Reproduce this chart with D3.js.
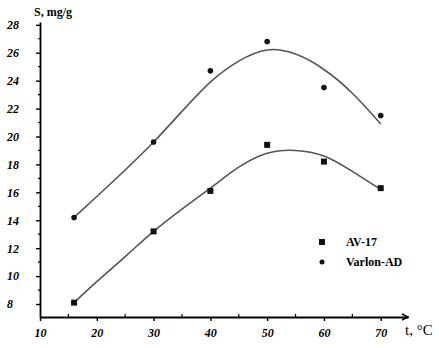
<!DOCTYPE html>
<html>
<head>
<meta charset="utf-8">
<script src="https://cdn.jsdelivr.net/npm/d3@7"></script>
<style>
  body { margin: 0; background: #fff; }
  svg { display: block; }
</style>
</head>
<body>
<div id="root"></div>
<script>
// measured points
const temps = [16, 30, 40, 50, 60, 70];
const av17 = [8.1, 13.2, 16.1, 19.4, 18.2, 16.3];
const varlon = [14.2, 19.6, 24.7, 26.8, 23.5, 21.5];

// fitted curves
const fitTemps = [16, 20, 25, 30, 35, 40, 45, 50, 55, 60, 65, 70];
const av17Fit = [8.1, 9.6, 11.4, 13.2, 14.8, 16.3, 17.8, 18.8, 19.0, 18.6, 17.5, 16.2];
const varlonFit = [14.2, 15.7, 17.6, 19.6, 21.8, 23.9, 25.4, 26.2, 25.9, 24.8, 23.1, 20.9];

const yTicks = [8, 10, 12, 14, 16, 18, 20, 22, 24, 26, 28];
const xTicks = [10, 20, 30, 40, 50, 60, 70];

const width = 439, height = 348;

const svg = d3.select('#root')
  .append('svg')
  .attr('width', width)
  .attr('height', height);

const x = d3.scaleLinear().domain([10, 74.8]).range([40, 408]);
const y = d3.scaleLinear().domain([7.07, 28.2]).range([317, 22]);

const tickFont = "'Liberation Serif', 'DejaVu Serif', serif";

// Y axis
const yAxis = svg.append('g')
  .attr('transform', `translate(${x(10)},0)`)
  .call(d3.axisLeft(y).tickValues(yTicks).tickSize(4).tickPadding(19).tickSizeOuter(0));
yAxis.select('.domain').attr('stroke-width', 1.8);
yAxis.selectAll('.tick line').attr('stroke-width', 1.4);
yAxis.selectAll('text')
  .attr('font-family', tickFont)
  .attr('font-size', 12)
  .attr('font-weight', 'bold')
  .attr('font-style', 'italic')
  .attr('text-anchor', 'start')
  .attr('x', -33);
// minor y ticks
yAxis.selectAll('.minor')
  .data(d3.range(9, 28, 2))
  .enter().append('line')
  .attr('x1', -2).attr('x2', 0)
  .attr('y1', d => y(d)).attr('y2', d => y(d))
  .attr('stroke', '#000').attr('stroke-width', 1.2);

// X axis
const xAxis = svg.append('g')
  .attr('transform', `translate(0,${y(7.07)})`)
  .call(d3.axisBottom(x).tickValues(xTicks).tickSize(4).tickPadding(7).tickSizeOuter(0));
xAxis.select('.domain').attr('stroke-width', 1.8);
xAxis.selectAll('.tick line').attr('stroke-width', 1.4);
xAxis.selectAll('text')
  .attr('font-family', tickFont)
  .attr('font-size', 12)
  .attr('font-weight', 'bold')
  .attr('font-style', 'italic');
xAxis.selectAll('.minor')
  .data(d3.range(15, 75, 10))
  .enter().append('line')
  .attr('x1', d => x(d)).attr('x2', d => x(d))
  .attr('y1', -3).attr('y2', 0)
  .attr('stroke', '#000').attr('stroke-width', 1.2);
// arrow head
xAxis.append('path')
  .attr('d', `M${x(74.8) - 6},-3 L${x(74.8)},0 L${x(74.8) - 6},3`)
  .attr('fill', 'none')
  .attr('stroke', '#000')
  .attr('stroke-width', 1.4);

// axis titles
svg.append('text')
  .attr('x', 34).attr('y', 16)
  .attr('font-family', tickFont)
  .attr('font-size', 12)
  .attr('font-weight', 'bold')
  .text('S, mg/g');

svg.append('text')
  .attr('x', 405).attr('y', 335)
  .attr('font-family', tickFont)
  .attr('font-size', 15)
  .text('t, °C');

// fitted lines
const line = d3.line()
  .x((d, i) => x(fitTemps[i]))
  .y(d => y(d))
  .curve(d3.curveNatural);

[av17Fit, varlonFit].forEach(s => {
  svg.append('path')
    .datum(s)
    .attr('fill', 'none')
    .attr('stroke', '#555')
    .attr('stroke-width', 1.6)
    .attr('d', line);
});

// points
svg.selectAll('.sq')
  .data(av17)
  .enter().append('rect')
  .attr('x', (d, i) => x(temps[i]) - 3)
  .attr('y', d => y(d) - 3)
  .attr('width', 6).attr('height', 6)
  .attr('fill', '#111');

svg.selectAll('.dot')
  .data(varlon)
  .enter().append('circle')
  .attr('cx', (d, i) => x(temps[i]))
  .attr('cy', d => y(d))
  .attr('r', 2.8)
  .attr('fill', '#111');

// legend
const legend = svg.append('g');
legend.append('rect')
  .attr('x', 319).attr('y', 239).attr('width', 6).attr('height', 6)
  .attr('fill', '#111');
legend.append('circle')
  .attr('cx', 322).attr('cy', 262).attr('r', 2.5)
  .attr('fill', '#111');
legend.append('text')
  .attr('x', 346).attr('y', 246)
  .attr('font-family', tickFont)
  .attr('font-size', 12)
  .attr('font-weight', 'bold')
  .text('AV-17');
legend.append('text')
  .attr('x', 346).attr('y', 266)
  .attr('font-family', tickFont)
  .attr('font-size', 12)
  .attr('font-weight', 'bold')
  .text('Varlon-AD');
</script>
</body>
</html>
